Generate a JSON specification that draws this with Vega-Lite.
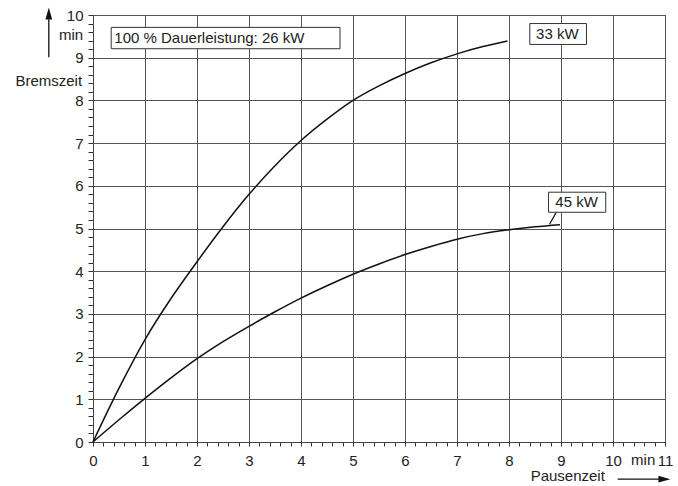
{
  "$schema": "https://vega.github.io/schema/vega-lite/v6.json",
  "width": 572,
  "height": 427,
  "autosize": "none",
  "padding": {"left": 93, "top": 15, "right": 13, "bottom": 44},
  "background": "white",
  "config": {
    "view": {"stroke": "#444", "strokeWidth": 1},
    "font": "Liberation Sans",
    "axis": {
      "labelFont": "Liberation Sans",
      "labelFontSize": 15,
      "labelColor": "#222",
      "tickColor": "#333",
      "domainColor": "#444",
      "gridColor": "#555",
      "gridWidth": 1,
      "title": null
    }
  },
  "datasets": {
    "curves": [
      {"series": "33 kW", "pause": 0, "brems": 0},
      {"series": "33 kW", "pause": 0.5, "brems": 1.26},
      {"series": "33 kW", "pause": 1, "brems": 2.4},
      {"series": "33 kW", "pause": 1.5, "brems": 3.36},
      {"series": "33 kW", "pause": 2, "brems": 4.22},
      {"series": "33 kW", "pause": 2.5, "brems": 5.04},
      {"series": "33 kW", "pause": 3, "brems": 5.8},
      {"series": "33 kW", "pause": 3.5, "brems": 6.47},
      {"series": "33 kW", "pause": 4, "brems": 7.06},
      {"series": "33 kW", "pause": 4.5, "brems": 7.56},
      {"series": "33 kW", "pause": 5, "brems": 8.0},
      {"series": "33 kW", "pause": 5.5, "brems": 8.34},
      {"series": "33 kW", "pause": 6, "brems": 8.63},
      {"series": "33 kW", "pause": 6.5, "brems": 8.88},
      {"series": "33 kW", "pause": 7, "brems": 9.09},
      {"series": "33 kW", "pause": 7.5, "brems": 9.26},
      {"series": "33 kW", "pause": 7.97, "brems": 9.39},
      {"series": "45 kW", "pause": 0, "brems": 0},
      {"series": "45 kW", "pause": 0.5, "brems": 0.52},
      {"series": "45 kW", "pause": 1, "brems": 1.02},
      {"series": "45 kW", "pause": 1.5, "brems": 1.5},
      {"series": "45 kW", "pause": 2, "brems": 1.95},
      {"series": "45 kW", "pause": 2.5, "brems": 2.35},
      {"series": "45 kW", "pause": 3, "brems": 2.71},
      {"series": "45 kW", "pause": 3.5, "brems": 3.05},
      {"series": "45 kW", "pause": 4, "brems": 3.37},
      {"series": "45 kW", "pause": 4.5, "brems": 3.66},
      {"series": "45 kW", "pause": 5, "brems": 3.93},
      {"series": "45 kW", "pause": 5.5, "brems": 4.17},
      {"series": "45 kW", "pause": 6, "brems": 4.39},
      {"series": "45 kW", "pause": 6.5, "brems": 4.58},
      {"series": "45 kW", "pause": 7, "brems": 4.75},
      {"series": "45 kW", "pause": 7.5, "brems": 4.88},
      {"series": "45 kW", "pause": 8, "brems": 4.97},
      {"series": "45 kW", "pause": 8.5, "brems": 5.04},
      {"series": "45 kW", "pause": 8.98, "brems": 5.09}
    ],
    "boxes": [
      {"label": "100 % Dauerleistung: 26 kW", "x": 0.35, "x2": 4.75, "y": 9.21, "y2": 9.71},
      {"label": "33 kW", "x": 8.4, "x2": 9.49, "y": 9.31, "y2": 9.8},
      {"label": "45 kW", "x": 8.76, "x2": 9.86, "y": 5.38, "y2": 5.85}
    ],
    "centerTexts": [
      {"text": "33 kW", "x": 8.93, "y": 9.555},
      {"text": "45 kW", "x": 9.3, "y": 5.615},
      {"text": "min", "x": 10.58, "y": -0.43},
      {"text": "Pausenzeit", "x": 9.13, "y": -0.8}
    ],
    "leftTexts": [
      {"text": "100 % Dauerleistung: 26 kW", "x": 0.41, "y": 9.46}
    ],
    "rightTexts": [
      {"text": "min", "x": -0.19, "y": 9.53},
      {"text": "Bremszeit", "x": -0.21, "y": 8.45}
    ],
    "rules": [
      {"x": -0.85, "y": 9.01, "x2": -0.85, "y2": 9.9},
      {"x": 10.09, "y": -0.87, "x2": 10.9, "y2": -0.87},
      {"x": 8.78, "y": 5.1, "x2": 8.91, "y2": 5.38}
    ],
    "heads": [
      {"dir": "up", "x": -0.85, "y": 10.0},
      {"dir": "right", "x": 10.96, "y": -0.87}
    ]
  },
  "resolve": {"axis": {"x": "independent", "y": "independent"}},
  "layer": [
    {
      "data": {"name": "curves"},
      "mark": {"type": "line", "color": "#111", "strokeWidth": 1.5, "interpolate": "monotone"},
      "encoding": {
        "x": {
          "field": "pause", "type": "quantitative",
          "scale": {"domain": [0, 11], "nice": false, "zero": false},
          "axis": {
            "values": [0, 0.2, 0.4, 0.6, 0.8, 1, 1.2, 1.4, 1.6, 1.8, 2, 2.2, 2.4, 2.6, 2.8, 3, 3.2, 3.4, 3.6, 3.8, 4, 4.2, 4.4, 4.6, 4.8, 5, 5.2, 5.4, 5.6, 5.8, 6, 6.2, 6.4, 6.6, 6.8, 7, 7.2, 7.4, 7.6, 7.8, 8, 8.2, 8.4, 8.6, 8.8, 9, 9.2, 9.4, 9.6, 9.8, 10, 10.2, 10.4, 10.6, 10.8, 11],
            "labelExpr": "datum.value === round(datum.value) ? format(datum.value, 'd') : ''",
            "grid": true,
            "gridOpacity": {"condition": {"test": "datum.value === round(datum.value)", "value": 1}, "value": 0},
            "tickSize": 4, "labelPadding": 7,
            "labelFlush": false, "labelOverlap": false, "orient": "bottom"
          }
        },
        "y": {
          "field": "brems", "type": "quantitative",
          "scale": {"domain": [0, 10], "nice": false, "zero": false},
          "axis": {
            "values": [0, 0.2, 0.4, 0.6, 0.8, 1, 1.2, 1.4, 1.6, 1.8, 2, 2.2, 2.4, 2.6, 2.8, 3, 3.2, 3.4, 3.6, 3.8, 4, 4.2, 4.4, 4.6, 4.8, 5, 5.2, 5.4, 5.6, 5.8, 6, 6.2, 6.4, 6.6, 6.8, 7, 7.2, 7.4, 7.6, 7.8, 8, 8.2, 8.4, 8.6, 8.8, 9, 9.2, 9.4, 9.6, 9.8, 10],
            "labelExpr": "datum.value === round(datum.value) ? format(datum.value, 'd') : ''",
            "grid": true,
            "gridOpacity": {"condition": {"test": "datum.value === round(datum.value)", "value": 1}, "value": 0},
            "tickSize": 5, "labelPadding": 5,
            "labelFlush": false, "labelOverlap": false, "orient": "left"
          }
        },
        "detail": {"field": "series"}
      }
    },
    {
      "data": {"name": "rules"},
      "mark": {"type": "rule", "color": "#111", "strokeWidth": 1.3},
      "encoding": {
        "x": {"field": "x", "type": "quantitative", "scale": {"domain": [0, 11], "nice": false, "zero": false}, "axis": null},
        "y": {"field": "y", "type": "quantitative", "scale": {"domain": [0, 10], "nice": false, "zero": false}, "axis": null},
        "x2": {"field": "x2"},
        "y2": {"field": "y2"}
      }
    },
    {
      "data": {"name": "boxes"},
      "mark": {"type": "rect", "fill": "white", "stroke": "#333", "strokeWidth": 1},
      "encoding": {
        "x": {"field": "x", "type": "quantitative", "scale": {"domain": [0, 11], "nice": false, "zero": false}, "axis": null},
        "x2": {"field": "x2"},
        "y": {"field": "y", "type": "quantitative", "scale": {"domain": [0, 10], "nice": false, "zero": false}, "axis": null},
        "y2": {"field": "y2"}
      }
    },
    {
      "data": {"name": "centerTexts"},
      "mark": {"type": "text", "align": "center", "baseline": "middle", "fontSize": 15, "color": "#222", "font": "Liberation Sans"},
      "encoding": {
        "x": {"field": "x", "type": "quantitative", "scale": {"domain": [0, 11], "nice": false, "zero": false}, "axis": null},
        "y": {"field": "y", "type": "quantitative", "scale": {"domain": [0, 10], "nice": false, "zero": false}, "axis": null},
        "text": {"field": "text"}
      }
    },
    {
      "data": {"name": "leftTexts"},
      "mark": {"type": "text", "align": "left", "baseline": "middle", "fontSize": 15, "color": "#222", "font": "Liberation Sans"},
      "encoding": {
        "x": {"field": "x", "type": "quantitative", "scale": {"domain": [0, 11], "nice": false, "zero": false}, "axis": null},
        "y": {"field": "y", "type": "quantitative", "scale": {"domain": [0, 10], "nice": false, "zero": false}, "axis": null},
        "text": {"field": "text"}
      }
    },
    {
      "data": {"name": "rightTexts"},
      "mark": {"type": "text", "align": "right", "baseline": "middle", "fontSize": 15, "color": "#222", "font": "Liberation Sans"},
      "encoding": {
        "x": {"field": "x", "type": "quantitative", "scale": {"domain": [0, 11], "nice": false, "zero": false}, "axis": null},
        "y": {"field": "y", "type": "quantitative", "scale": {"domain": [0, 10], "nice": false, "zero": false}, "axis": null},
        "text": {"field": "text"}
      }
    },
    {
      "data": {"name": "heads"},
      "mark": {"type": "point", "filled": true, "color": "#111", "opacity": 1, "size": 225},
      "encoding": {
        "x": {"field": "x", "type": "quantitative", "scale": {"domain": [0, 11], "nice": false, "zero": false}, "axis": null},
        "y": {"field": "y", "type": "quantitative", "scale": {"domain": [0, 10], "nice": false, "zero": false}, "axis": null},
        "shape": {
          "field": "dir", "type": "nominal",
          "scale": {"domain": ["up", "right"], "range": ["M0,-1L0.45,0.6L-0.45,0.6Z", "M1,0L-0.6,0.45L-0.6,-0.45Z"]},
          "legend": null
        }
      }
    }
  ]
}
